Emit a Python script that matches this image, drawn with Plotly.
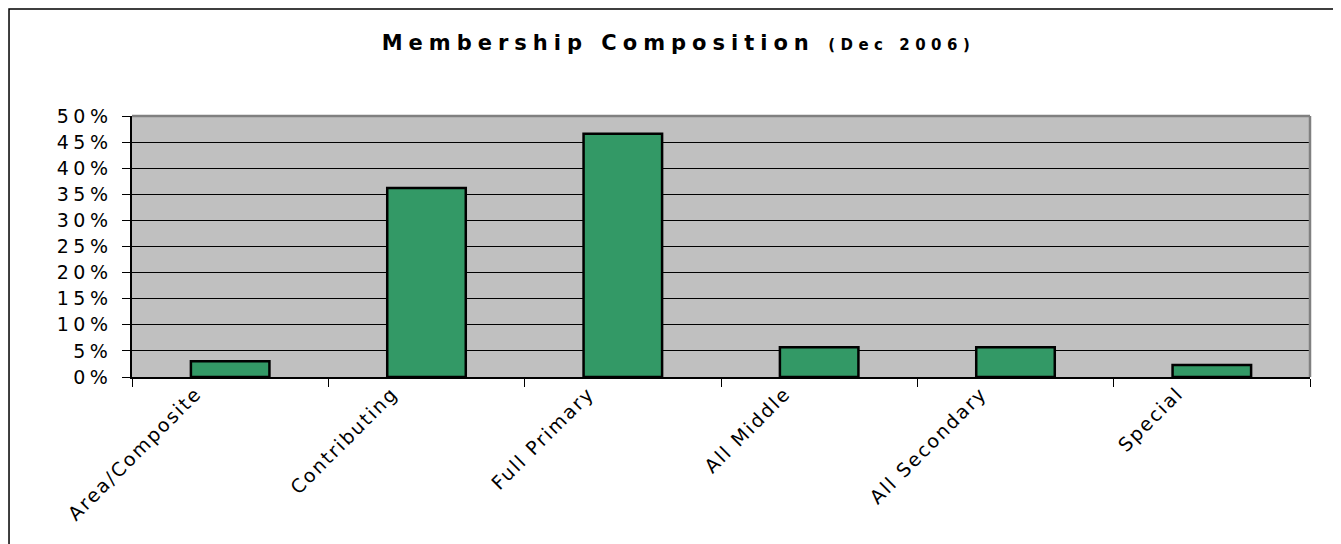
import plotly.graph_objects as go

categories = ["Area/Composite", "Contributing", "Full Primary",
              "All Middle", "All Secondary", "Special"]
shares = [0.030, 0.362, 0.466, 0.057, 0.057, 0.023]
y_ticks = [0, 0.05, 0.10, 0.15, 0.20, 0.25, 0.30, 0.35, 0.40, 0.45, 0.50]
y_tick_labels = ["0%", "5%", "10%", "15%", "20%", "25%", "30%", "35%", "40%", "45%", "50%"]

FONT = "DejaVu Sans, Verdana, sans-serif"


def spaced(txt, px):
    # the original chart renders its text stretched wide
    return f"<span style='letter-spacing:{px}px'>{txt}</span>"


fig = go.Figure()

fig.add_trace(go.Bar(
    x=categories, y=shares,
    width=0.4,
    marker=dict(color="#339966", line=dict(color="#000000", width=2.5)),
    showlegend=False,
))

# plot-area frame (grey top/right edge) and outer chart border
fig.add_shape(type="line", xref="paper", yref="paper", x0=0, x1=1, y0=1, y1=1,
              line=dict(color="#808080", width=2.5))
fig.add_shape(type="line", xref="paper", yref="paper", x0=1, x1=1, y0=0, y1=1,
              line=dict(color="#808080", width=2.5))
fig.add_shape(type="rect", xref="paper", yref="paper",
              x0=-0.1044, x1=1.0212, y0=-0.75, y1=1.41,
              line=dict(color="#000000", width=1.5), layer="below")

title_txt = (
    "<b><span style='letter-spacing:6px'>Membership Composition </span></b>"
    "<b><span style='font-size:15px;letter-spacing:5.5px'>(Dec 2006)</span></b>"
)

fig.update_layout(
    width=1341, height=544,
    paper_bgcolor="#ffffff",
    plot_bgcolor="#C0C0C0",
    margin=dict(l=124, r=39, t=108, b=175),
    title=dict(
        text=title_txt,
        font=dict(family=FONT, size=21, color="#000000"),
        x=0.5, xanchor="center", xref="container",
        y=0.936, yanchor="middle",
    ),
    xaxis=dict(
        type="category",
        range=[-0.5, 5.5],
        tickvals=categories,
        ticktext=[spaced(c, 2) for c in categories],
        showgrid=False,
        showline=True, linecolor="#000000", linewidth=1.5,
        ticks="outside", tickson="boundaries", ticklen=8, tickcolor="#000000",
        tickangle=-45,
        tickfont=dict(family=FONT, size=19, color="#000000"),
        ticklabelshift=-34,
        ticklabelstandoff=-4,
    ),
    yaxis=dict(
        range=[0, 0.5],
        tickvals=y_ticks,
        ticktext=[spaced(t, 4.5) for t in y_tick_labels],
        showgrid=True, gridcolor="#000000", gridwidth=1,
        showline=True, linecolor="#000000", linewidth=1.5,
        ticks="outside", ticklen=8, tickcolor="#000000",
        tickfont=dict(family=FONT, size=19, color="#000000"),
        ticklabelstandoff=6,
        zeroline=False,
    ),
)

fig.write_html("out.html")
